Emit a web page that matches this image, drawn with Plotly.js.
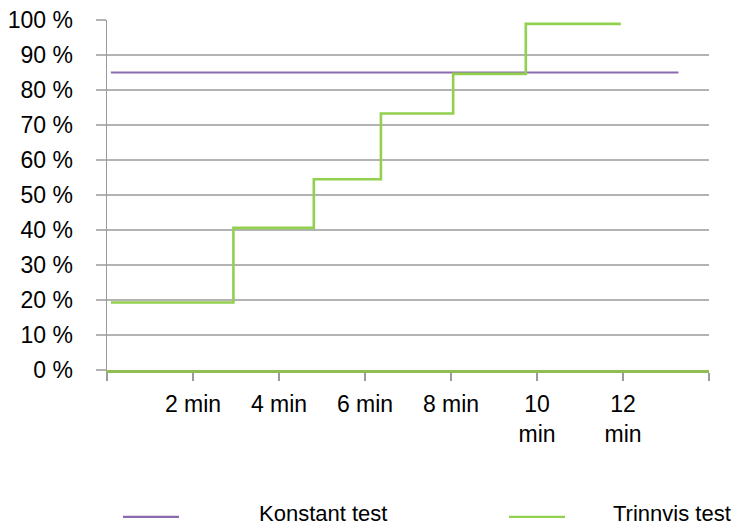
<!DOCTYPE html>
<html>
<head>
<meta charset="utf-8">
<script src="https://cdn.plot.ly/plotly-3.0.1.min.js"></script>
<style>
  html, body { margin: 0; padding: 0; background: #fff; }
  #chart { width: 750px; height: 528px; }
</style>
</head>
<body>
<div id="chart"></div>
<script>
// Time axis (minutes) and its labels
const tickMinutes = [0, 2, 4, 6, 8, 10, 12, 14];
const tickLabels = ['', '2 min', '4 min', '6 min', '8 min', '10<br>min', '12<br>min', ''];

// Constant-load test: one level held across the whole session
const constantMinutes = [0.09, 13.29];
const constantLevel = [85, 85];

// Stepwise test: start time of each stage and its intensity (%)
const stepMinutes = [0.09, 2.94, 4.81, 6.37, 8.05, 9.74, 11.95];
const stepLevel = [19.3, 40.6, 54.5, 73.3, 84.6, 98.9, 98.9];

const seriesNames = ['Konstant test', 'Trinnvis test'];
const yTicks = [0, 10, 20, 30, 40, 50, 60, 70, 80, 90, 100];
const yLabels = yTicks.map(v => v + ' %');

const purple = '#8a6bb0';
const green = '#92d050';
const axisGreen = '#8fbd54';
const grid = '#b3b3b3';
const font = 'Liberation Sans, Arial, sans-serif';

const traces = [
  {
    x: constantMinutes, y: constantLevel, name: seriesNames[0],
    type: 'scatter', mode: 'lines',
    line: { color: purple, width: 2.2 },
    showlegend: false, hoverinfo: 'skip'
  },
  {
    x: stepMinutes, y: stepLevel, name: seriesNames[1],
    type: 'scatter', mode: 'lines',
    line: { color: green, width: 2.6, shape: 'hv' },
    showlegend: false, hoverinfo: 'skip'
  }
];

// Legend row drawn under the plot: line sample followed by the series name
const legendLineY = -0.4197;  // sample lines
const legendTextY = -0.409;   // series names
const legendItems = [
  { x0: 0.0266, x1: 0.1196, tx: 0.250, color: purple, name: seriesNames[0] },
  { x0: 0.6678, x1: 0.7608, tx: 0.839, color: green, name: seriesNames[1] }
];

const layout = {
  width: 750, height: 528,
  margin: { l: 107, r: 41, t: 20, b: 158 },
  paper_bgcolor: '#fff', plot_bgcolor: '#fff',
  font: { family: font, size: 23, color: '#000' },
  xaxis: {
    range: [0, 14],
    tickmode: 'array', tickvals: tickMinutes, ticktext: tickLabels,
    ticks: 'outside', ticklen: 8, tickwidth: 1.5, tickcolor: '#9a9a9a',
    showgrid: false, zeroline: false,
    showline: true, linecolor: axisGreen, linewidth: 3,
    ticklabelstandoff: 3,
    tickfont: { family: font, size: 23, color: '#000' },
    fixedrange: true
  },
  yaxis: {
    range: [0, 100],
    tickmode: 'array', tickvals: yTicks, ticktext: yLabels,
    ticks: 'outside', ticklen: 10, tickwidth: 1.5, tickcolor: grid,
    showgrid: true, gridcolor: grid, gridwidth: 1.5,
    zeroline: false,
    showline: true, linecolor: '#9a9a9a', linewidth: 1.5,
    ticklabelstandoff: 18,
    tickfont: { family: font, size: 23, color: '#000' },
    fixedrange: true
  },
  shapes: legendItems.map(it => ({
    type: 'line', xref: 'paper', yref: 'paper',
    x0: it.x0, x1: it.x1, y0: legendLineY, y1: legendLineY,
    line: { color: it.color, width: 2.2 }
  })),
  annotations: legendItems.map(it => ({
    xref: 'paper', yref: 'paper', x: it.tx, y: legendTextY,
    xanchor: 'left', yanchor: 'middle', showarrow: false, borderpad: 0,
    text: it.name, font: { family: font, size: 22, color: '#000' }
  })),
  showlegend: false
};

Plotly.newPlot('chart', traces, layout, { displayModeBar: false, staticPlot: true });
</script>
</body>
</html>
